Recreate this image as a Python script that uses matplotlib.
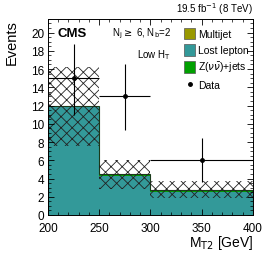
import matplotlib
matplotlib.use('Agg')
import matplotlib.pyplot as plt
from matplotlib.patches import Patch
from matplotlib.lines import Line2D
from matplotlib.ticker import MultipleLocator
import numpy as np

plt.rcParams['font.family'] = ['Liberation Sans', 'DejaVu Sans']
plt.rcParams['hatch.linewidth'] = 0.6

# binning and stacked backgrounds
edges = [200, 250, 300, 400]
lost_lepton = [11.8, 4.3, 2.5]
znunu = [0.15, 0.2, 0.2]
multijet = [0.0, 0.0, 0.0]
unc_lo = [7.6, 2.9, 1.9]
unc_hi = [16.2, 6.0, 3.7]

# data
data_x = [225, 275, 350]
data_y = [15, 13, 6]
data_errlo = [4.0, 3.7, 2.4]
data_errhi = [3.8, 3.5, 2.4]

c_ll = '#339999'
c_z = '#00a000'
c_mj = '#999900'

fig = plt.figure(figsize=(2.66, 2.55), dpi=100)
ax = fig.add_axes([0.180, 0.153, 0.771, 0.769])

lefts = np.array(edges[:-1])
widths = np.diff(edges)
ll = np.array(lost_lepton)
zz = np.array(znunu)
mj = np.array(multijet)

ax.bar(lefts, ll, width=widths, align='edge', color=c_ll, lw=0)
ax.bar(lefts, zz, width=widths, bottom=ll, align='edge', color=c_z, lw=0)
ax.bar(lefts, mj, width=widths, bottom=ll + zz, align='edge', color=c_mj, lw=0)
tot = ll + zz + mj
ax.stairs(tot, edges, color='#1a3a1a', lw=0.8)

lo = np.array(unc_lo)
hi = np.array(unc_hi)
ax.bar(lefts, hi - lo, width=widths, bottom=lo, align='edge', fill=False,
       hatch='xxx', edgecolor='#222222', lw=0)

xerr = widths / 2
ax.errorbar(data_x, data_y, yerr=[data_errlo, data_errhi], xerr=xerr,
            fmt='o', color='black', ms=2.5, lw=0.8, capsize=0)

ax.set_xlim(200, 400)
ax.set_ylim(0, 21.5)
ax.xaxis.set_major_locator(MultipleLocator(50))
ax.xaxis.set_minor_locator(MultipleLocator(10))
ax.yaxis.set_major_locator(MultipleLocator(2))
ax.yaxis.set_minor_locator(MultipleLocator(0.5))
ax.tick_params(which='both', direction='in', top=True, right=True, labelsize=8.5)
ax.tick_params(axis='y', pad=2.5)
ax.tick_params(axis='x', pad=5)
ax.tick_params(which='major', length=4, width=0.6)
ax.tick_params(which='minor', length=2, width=0.5)
for s in ax.spines.values():
    s.set_linewidth(0.7)

fig.text(0.045, 0.922, 'Events', rotation=90, ha='center', va='top', fontsize=10.5)
fig.text(0.951, 0.048, r'M$_{\mathrm{T2}}$ [GeV]', ha='right', va='center', fontsize=10)
fig.text(0.951, 0.935, r'19.5 fb$^{-1}$ (8 TeV)', ha='right', va='bottom', fontsize=7)

ax.text(0.045, 0.93, 'CMS', transform=ax.transAxes, fontsize=9.5, fontweight='bold', va='center')
ax.text(0.6, 0.93, r'N$_{\mathrm{j}}$$\geq$ 6, N$_{\mathrm{b}}$=2', transform=ax.transAxes,
        fontsize=7, ha='right', va='center')
ax.text(0.6, 0.82, r'Low H$_{\mathrm{T}}$', transform=ax.transAxes,
        fontsize=7, ha='right', va='center')

handles = [Patch(facecolor=c_mj, edgecolor='#555555', lw=0.5),
           Patch(facecolor=c_ll, edgecolor='#555555', lw=0.5),
           Patch(facecolor=c_z, edgecolor='#555555', lw=0.5),
           Line2D([], [], marker='o', color='black', ms=2.5, lw=0)]
labels = ['Multijet', 'Lost lepton', r'Z($\nu\bar{\nu}$)+jets', 'Data']
ax.legend(handles, labels, loc='upper left', bbox_to_anchor=(0.63, 0.99), frameon=False,
          fontsize=7.5, handlelength=1.0, handleheight=1.3, handletextpad=0.3,
          labelspacing=0.45, borderpad=0.2)

fig.savefig('out.png', dpi=100)
